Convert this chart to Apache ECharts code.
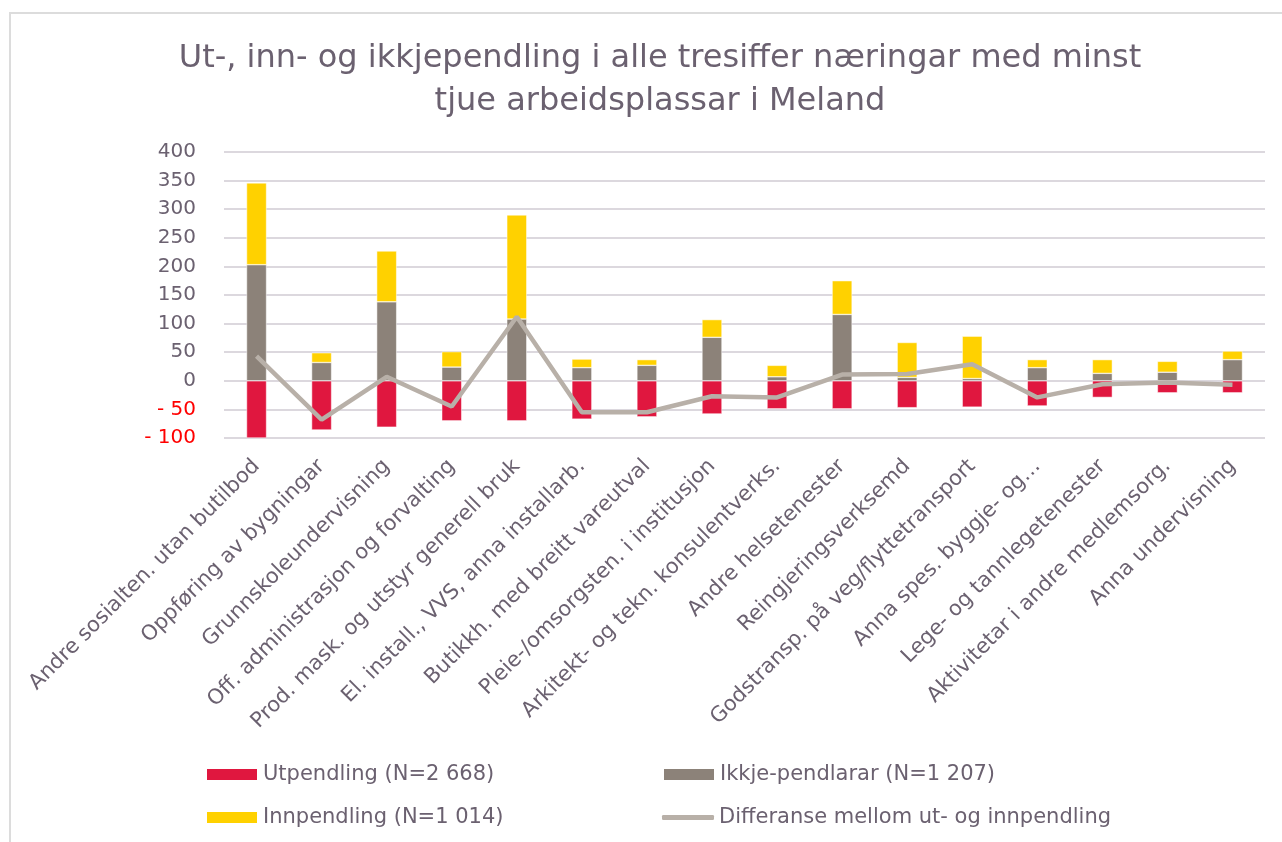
<!DOCTYPE html>
<html>
<head>
<meta charset="utf-8">
<title>Pendling Meland</title>
<script src="https://cdn.jsdelivr.net/npm/echarts@6/dist/echarts.min.js"></script>
<style>
  html, body { margin: 0; padding: 0; background: #fff; }
  #chart { width: 1282px; height: 842px; }
</style>
</head>
<body>
<div id="chart"></div>
<script>
  // naeringar (kategoriar)
  const categories = [
    'Andre sosialten. utan butilbod',
    'Oppføring av bygningar',
    'Grunnskoleundervisning',
    'Off. administrasjon og forvalting',
    'Prod. mask. og utstyr generell bruk',
    'El. install., VVS, anna installarb.',
    'Butikkh. med breitt vareutval',
    'Pleie-/omsorgsten. i institusjon',
    'Arkitekt- og tekn. konsulentverks.',
    'Andre helsetenester',
    'Reingjeringsverksemd',
    'Godstransp. på veg/flyttetransport',
    'Anna spes. byggje- og…',
    'Lege- og tannlegetenester',
    'Aktivitetar i andre medlemsorg.',
    'Anna undervisning'
  ];
  const utpendling = [-100, -86, -81, -70, -70, -67, -63, -58, -49, -49, -47, -46, -44, -29, -21, -21];
  const ikkjePendlarar = [203, 32, 138, 24, 108, 23, 27, 76, 7, 116, 6, 4, 23, 13, 15, 37];
  const innpendling = [143, 17, 89, 27, 182, 15, 10, 31, 20, 59, 61, 74, 14, 24, 19, 15];
  const differanse = [43, -68, 7, -45, 112, -55, -55, -27, -29, 11, 12, 29, -29, -6, -3, -7];

  const names = [
    'Utpendling (N=2 668)',
    'Ikkje-pendlarar (N=1 207)',
    'Innpendling (N=1 014)',
    'Differanse mellom ut- og innpendling'
  ];

  const textCol = '#6b6170';
  const font = 'DejaVu Sans';

  let chart = echarts.init(document.getElementById('chart'));

  function legendAt(name, left, top, extra) {
    return Object.assign({
      data: [name],
      left: left,
      top: top,
      padding: 0,
      itemWidth: 52,
      itemHeight: 13,
      icon: 'rect',
      textStyle: { color: textCol, fontSize: 21, fontFamily: font }
    }, extra || {});
  }

  let option = {
    animation: false,
    textStyle: { fontFamily: font },
    title: {
      text: 'Ut-, inn- og ikkjependling i alle tresiffer næringar med minst\ntjue arbeidsplassar i Meland',
      left: 655,
      top: 32,
      textAlign: 'center',
      textStyle: { color: textCol, fontSize: 32, fontWeight: 'normal', lineHeight: 43, fontFamily: font }
    },
    graphic: [{
      type: 'rect',
      shape: { x: 10, y: 13, width: 1300, height: 900 },
      style: { fill: 'none', stroke: '#dcdcdc', lineWidth: 2 },
      silent: true
    }],
    legend: [
      legendAt(names[0], 205, 764),
      legendAt(names[1], 662, 764),
      legendAt(names[2], 205, 807),
      legendAt(names[3], 662, 807, { icon: 'roundRect', itemHeight: 5 })
    ],
    grid: { left: 224, right: 17, top: 152, bottom: 404 },
    xAxis: {
      type: 'category',
      data: categories,
      axisLine: { show: false, onZero: false },
      axisTick: { show: false },
      axisLabel: {
        rotate: 45,
        interval: 0,
        margin: 25,
        color: textCol,
        fontSize: 21,
        fontFamily: font
      }
    },
    yAxis: {
      type: 'value',
      min: -100,
      max: 400,
      interval: 50,
      axisLine: { show: false },
      axisTick: { show: false },
      splitLine: { lineStyle: { color: '#dcd8de', width: 2 } },
      axisLabel: {
        margin: 28,
        fontSize: 20,
        fontFamily: font,
        color: textCol,
        formatter: function (v) {
          return v < 0 ? '{neg|- ' + Math.abs(v) + '}' : String(v);
        },
        rich: {
          neg: { color: '#ff0000', fontSize: 20, fontFamily: font }
        }
      }
    },
    series: [
      {
        name: names[0], type: 'bar', stack: 'total', barWidth: 20,
        itemStyle: { color: '#e0173f', borderColor: '#fff', borderWidth: 0.5 },
        data: utpendling
      },
      {
        name: names[1], type: 'bar', stack: 'total', barWidth: 20,
        itemStyle: { color: '#8c8279', borderColor: '#fff', borderWidth: 0.5 },
        data: ikkjePendlarar
      },
      {
        name: names[2], type: 'bar', stack: 'total', barWidth: 20,
        itemStyle: { color: '#ffd100', borderColor: '#fff', borderWidth: 0.5 },
        data: innpendling
      },
      {
        name: names[3], type: 'line', symbol: 'none', z: 5,
        lineStyle: { color: '#b8b0a8', width: 4.5 },
        itemStyle: { color: '#b8b0a8' },
        data: differanse
      }
    ]
  };
  chart.setOption(option);
  window.addEventListener('resize', () => { chart.resize() });
</script>
</body>
</html>
